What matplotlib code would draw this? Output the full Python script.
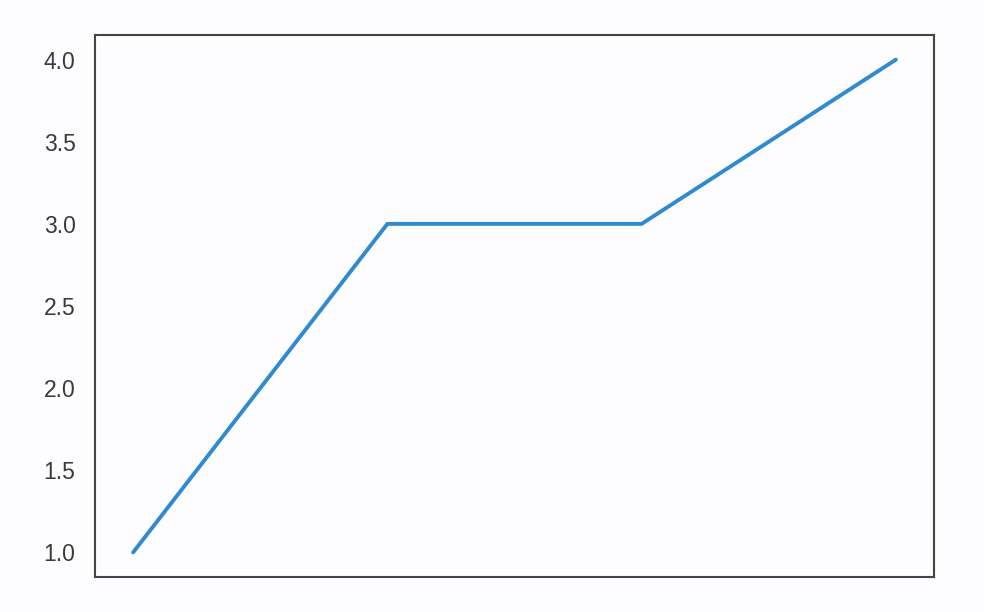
import matplotlib.pyplot as plt
import seaborn as sns

# Data
x_values = [0, 1, 2, 3]
y_values = [1, 3, 3, 4]

sns.set_style("white")
plt.rcParams['font.family'] = ['Liberation Sans', 'DejaVu Sans']

fig = plt.figure(figsize=(9.84, 6.12), dpi=100)
fig.patch.set_facecolor("#fdfcfe")
ax = fig.add_axes([95 / 984, 1 - 577 / 612, (934 - 95) / 984, (577 - 35) / 612])
ax.set_facecolor("#fdfcfe")

ax.plot(x_values, y_values, color="#2f8ad0", linewidth=2.8)

ax.set_xticks([])
ax.tick_params(axis="y", labelsize=16.5, colors="#3a3a3a", length=0, pad=14)
for spine in ax.spines.values():
    spine.set_color("#444444")
    spine.set_linewidth(1.5)

plt.savefig("out.png", dpi=100)
